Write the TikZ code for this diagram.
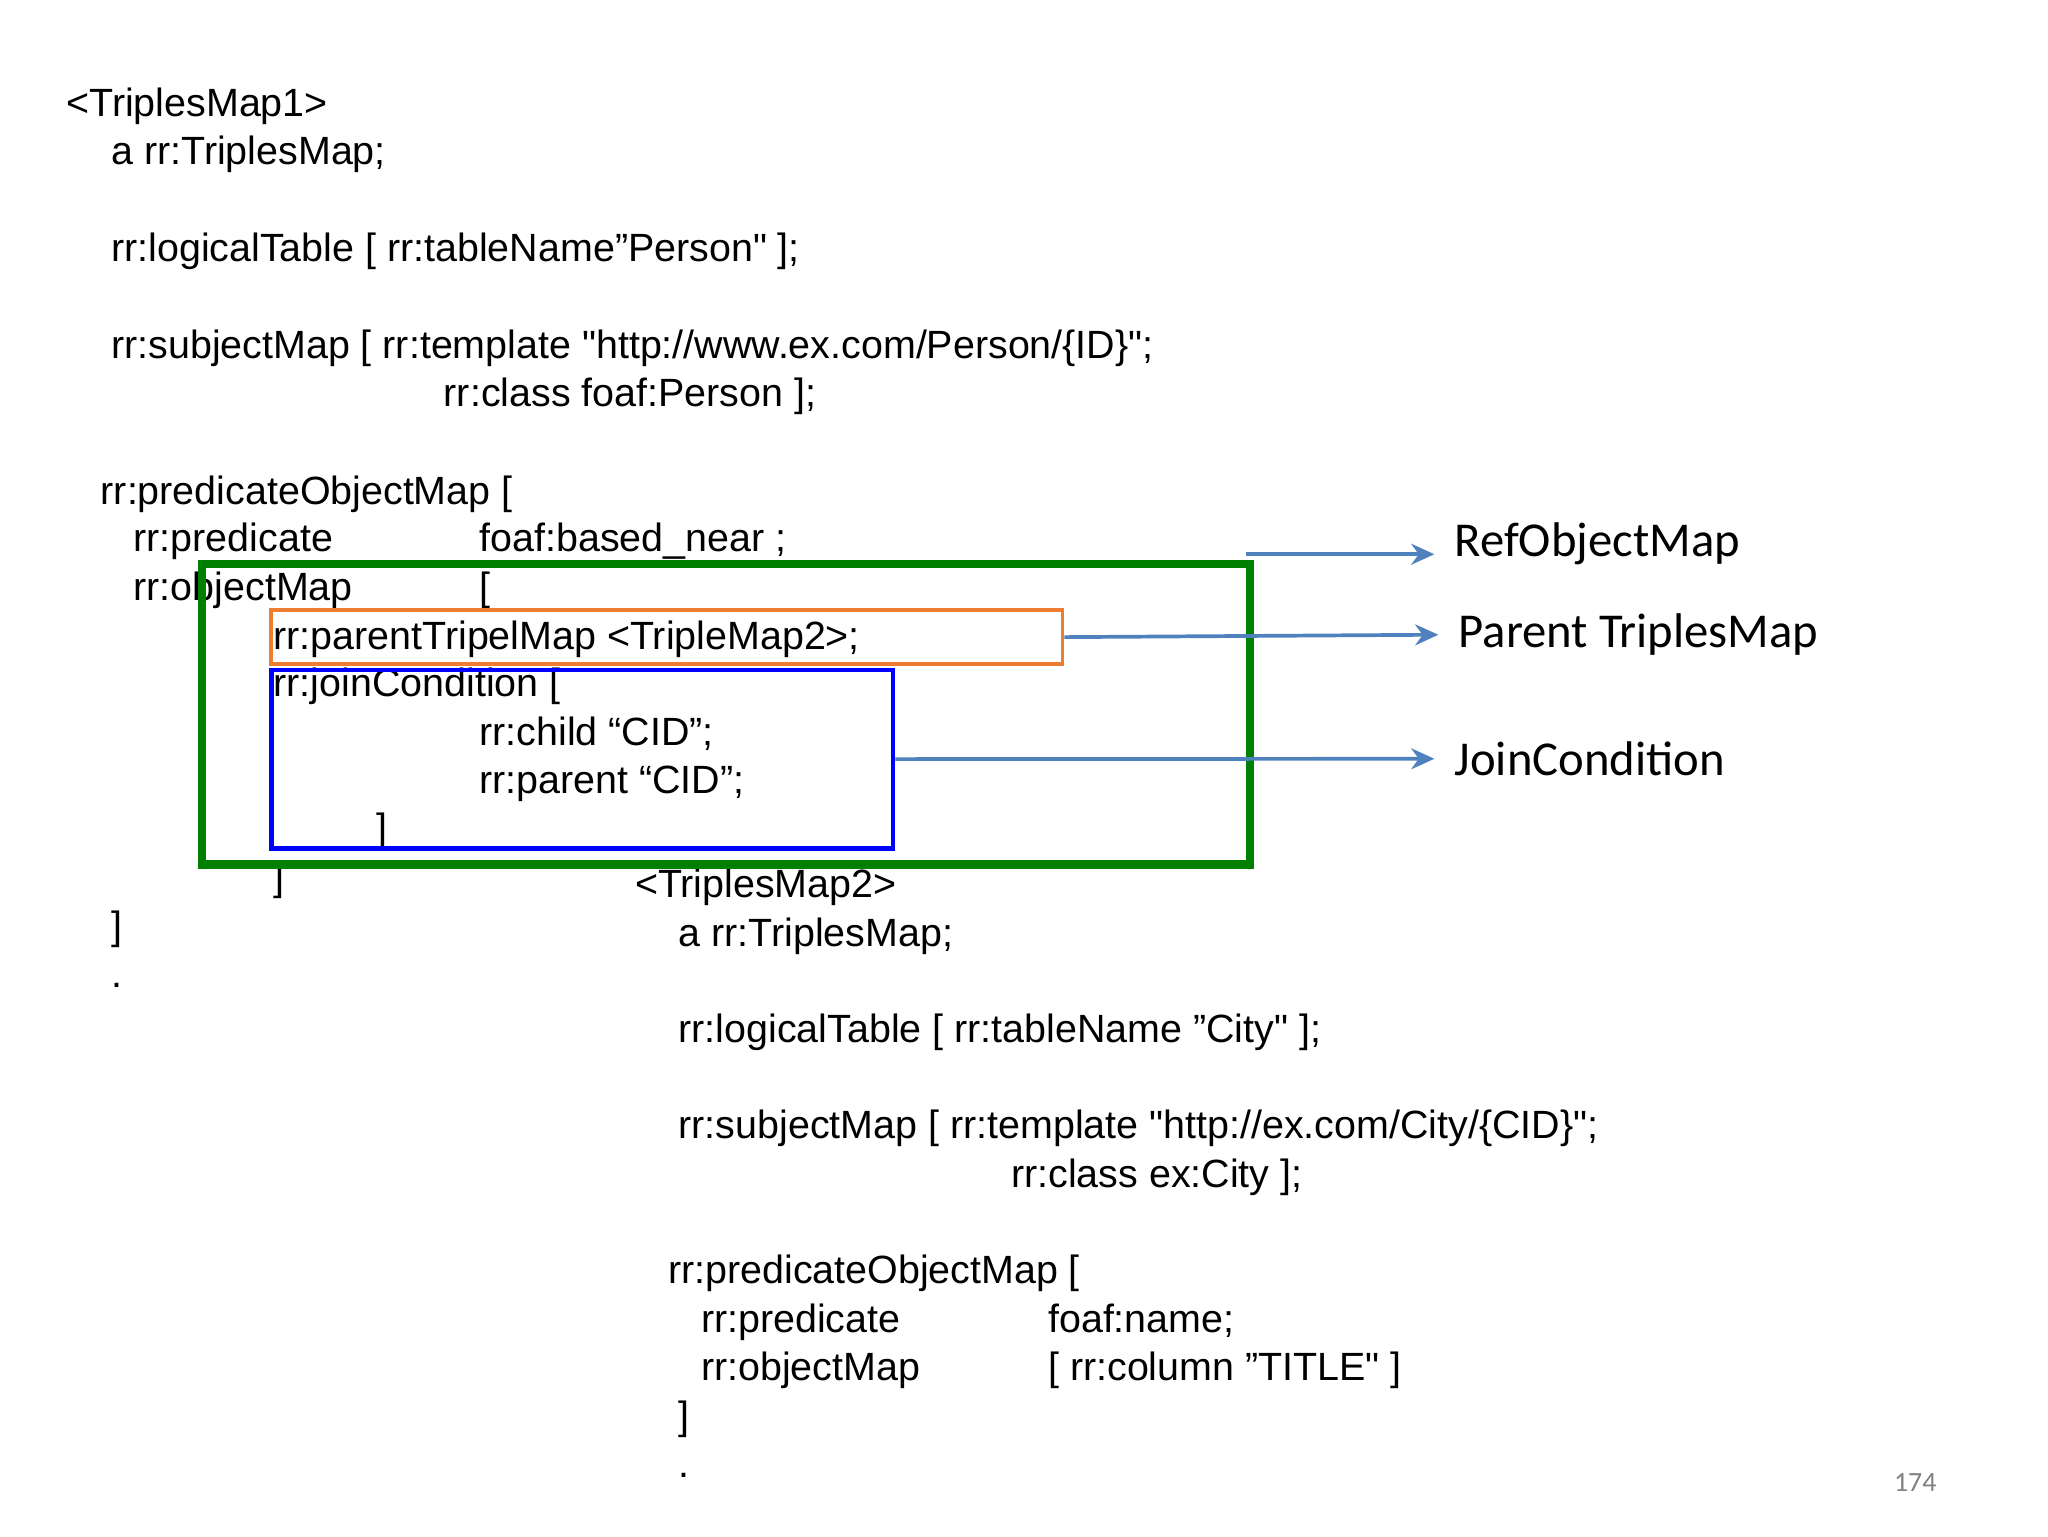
\documentclass[tikz,border=0pt]{standalone}
\usepackage{fontspec}
\setmainfont{Liberation Sans}[Ligatures=TeXOff]
\newfontfamily\lbl{Carlito}
\usetikzlibrary{arrows.meta}
\definecolor{arr}{RGB}{79,129,189}
\definecolor{gbox}{RGB}{0,128,0}
\definecolor{obox}{RGB}{237,125,49}
\begin{document}
\begin{tikzpicture}[x=0.02cm,y=-0.02cm,
  t/.style={anchor=base west,inner sep=0pt,font=\fontsize{17}{20}\selectfont},
  l/.style={anchor=west,inner sep=0pt,font=\lbl\fontsize{21}{24}\selectfont},
  a/.style={draw=arr,line width=1.6pt,-{Stealth[length=10pt,width=9pt]}}]
\useasboundingbox (0,0) rectangle (1552,1164);
\node[t] (n1) at (50,88) {<TriplesMap1>};
\node[t] (n2) at (84,125) {a rr:TriplesMap;};
\node[t] (n3) at (84,198) {rr:logicalTable [ rr:tableName”Person" ];};
\node[t] (n4) at (84,272) {rr:subjectMap [ rr:template "http://www.ex.com/Person/\{ID\}";};
\node[t] (n5) at (336,308) {rr:class foaf:Person ];};
\node[t] (n6) at (76,382) {rr:predicateObjectMap [};
\node[t] (n7) at (101,418) {rr:predicate};
\node[t] (n8) at (363,418) {foaf:based\_near ;};
\node[t] (n9) at (101,455) {rr:objectMap};
\node[t] (n10) at (363,455) {[};
\node[t] (n11) at (207,492) {rr:parentTripelMap <TripleMap2>;};
\node[t] (n12) at (207,528) {rr:joinCondition [};
\node[t] (n13) at (363,565) {rr:child “CID”;};
\node[t] (n14) at (363,601) {rr:parent “CID”;};
\node[t] (n15) at (285,638) {]};
\node[t] (n16) at (207,675) {]};
\node[t] (n17) at (84,712) {]};
\node[t] (n18) at (84,748) {.};
\node[t] (m1) at (481,680) {<TriplesMap2>};
\node[t] (m2) at (514,717) {a rr:TriplesMap;};
\node[t] (m3) at (514,790) {rr:logicalTable [ rr:tableName ”City" ];};
\node[t] (m4) at (514,863) {rr:subjectMap [ rr:template "http://ex.com/City/\{CID\}";};
\node[t] (m5) at (766,900) {rr:class ex:City ];};
\node[t] (m6) at (506,973) {rr:predicateObjectMap [};
\node[t] (m7) at (531,1010) {rr:predicate};
\node[t] (m8) at (794,1010) {foaf:name;};
\node[t] (m9) at (531,1046) {rr:objectMap};
\node[t] (m10) at (794,1046) {[ rr:column ”TITLE" ]};
\node[t] (m11) at (514,1083) {]};
\node[t] (m12) at (514,1120) {.};
\node[anchor=base west,inner sep=0pt,text=gray,font=\lbl\fontsize{12}{14}\selectfont] (pg) at (1435,1130) {174};
\node[draw=gbox,line width=3.5pt,inner sep=0pt,minimum width=794*0.02cm,minimum height=228*0.02cm,anchor=north west] (g) at (150,424) {};
\node[draw=obox,line width=1.5pt,inner sep=0pt,minimum width=600*0.02cm,minimum height=41*0.02cm,anchor=north west] (o) at (204,461) {};
\node[draw=blue,line width=2pt,inner sep=0pt,minimum width=471*0.02cm,minimum height=135*0.02cm,anchor=north west] (b) at (204,506) {};
\node[l] (L1) at (1102,412) {RefObjectMap};
\node[l] (L2) at (1105,481) {Parent TriplesMap};
\node[l] (L3) at (1102,575) {JoinCondition};
\coordinate (g1) at (944,420);
\coordinate (g2) at (1087,420);
\draw[a] (g1) -- (g2);
\draw[a] (o.east) -- ([xshift=-0.3cm]L2.west);
\draw[a] (b.east) -- ([xshift=-0.3cm]L3.west);
\end{tikzpicture}
\end{document}
